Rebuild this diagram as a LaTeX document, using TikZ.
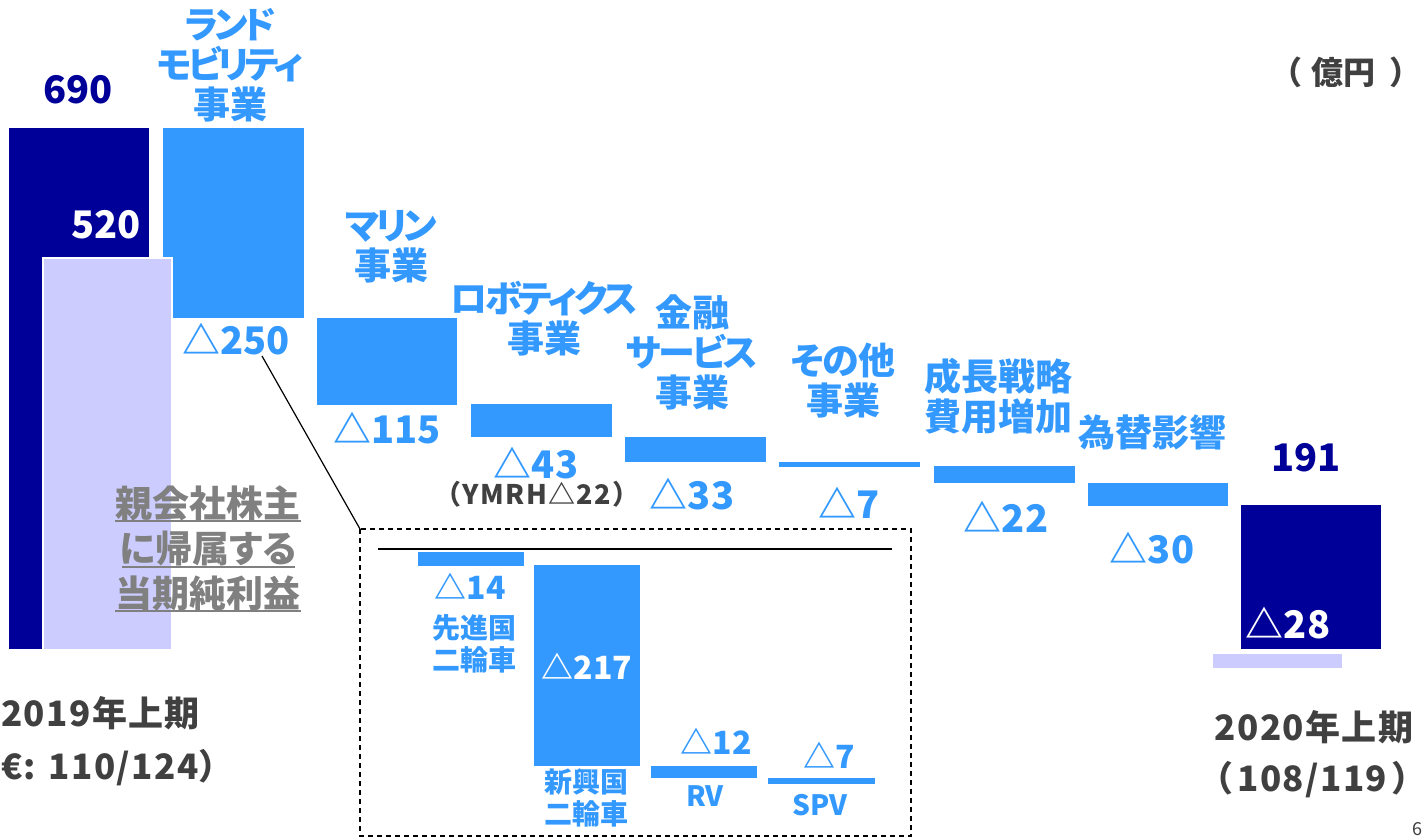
\documentclass[tikz,border=0pt]{standalone}
\usepackage{fontspec}
\setmainfont{Noto Sans CJK JP}[RawFeature={+palt}]
\newfontfamily\jpfw{Noto Sans CJK JP}
\newcommand{\kana}[2]{{\addfontfeature{LetterSpace=#1}#2}}
\definecolor{navy}{HTML}{000099}
\definecolor{bblue}{HTML}{3399FF}
\definecolor{lav}{HTML}{CCCCFF}
\definecolor{dgray}{HTML}{404040}
\definecolor{mgray}{HTML}{808080}
\tikzset{
  lbl/.style={font=\bfseries\fontsize{37}{40}\selectfont, text=bblue, align=center, inner sep=0pt},
  num/.style={font=\bfseries\fontsize{38}{40}\selectfont, text=bblue, inner sep=0pt},
  snum/.style={font=\bfseries\fontsize{32}{34}\selectfont, text=bblue, inner sep=0pt},
  slbl/.style={font=\bfseries\fontsize{28}{32}\selectfont, text=bblue, align=center, inner sep=0pt},
  yr/.style={font=\bfseries\fontsize{35}{40}\selectfont\addfontfeature{LetterSpace=4}, text=dgray, inner sep=0pt},
  glbl/.style={font=\bfseries\fontsize{37}{45}\selectfont, text=mgray, align=center, inner sep=0pt},
  barfill/.style={fill=bblue},
  boxline/.style={line width=1.3pt, dash pattern=on 5pt off 4pt}
}
\begin{document}
\begin{tikzpicture}[x=1pt,y=-1pt]
\useasboundingbox (0,0) rectangle (1424,837);
% main bars
\fill[navy] (9,128) rectangle (149,649);
\fill[barfill] (163,128) rectangle (304,318);
\filldraw[fill=lav, draw=white, line width=1.5pt] (43,258) rectangle (172,650);
\fill[barfill] (317,318) rectangle (457,405);
\fill[barfill] (471,404) rectangle (612,437);
\fill[barfill] (625,437) rectangle (766,462);
\fill[barfill] (779,462) rectangle (920,467);
\fill[barfill] (934,466) rectangle (1075,483);
\fill[barfill] (1088,483) rectangle (1228,506);
\fill[navy] (1241,505) rectangle (1381,649);
\fill[lav] (1213,654) rectangle (1342,668);
% inset box
\coordinate (boxtl) at (360,529);
\coordinate (boxbr) at (911,836);
\draw[boxline] (boxtl) rectangle (boxbr);
\coordinate (ruleA) at (378,549);
\coordinate (ruleB) at (892,549);
\draw[line width=2pt] (ruleA) -- (ruleB);
\fill[barfill] (418,552) rectangle (524,566);
\fill[barfill] (534,565) rectangle (640,766);
\fill[barfill] (651,766) rectangle (757,778);
\fill[barfill] (768,778) rectangle (875,784);
% main labels
\node[num, text=navy] (v690) at (78,90) {690};
\node[num, text=white, anchor=east] (v520) at (141,225) {520};
\node[lbl] (t1) at (230,65) {\kana{-12}{ランド}\\\kana{-11}{モビリティ}\\事業};
\node[num] (v250) at (236,339) {△250};
\node[lbl] (t2) at (391,247) {\kana{-11}{マリン}\\事業};
\node[num] (v115) at (387,428) {△115};
\node[lbl] (t3) at (544,319) {\kana{-8}{ロボティクス}\\事業};
\node[num] (v43) at (536,463) {△43};
\node[font=\jpfw\bfseries\fontsize{27}{28}\selectfont\addfontfeature{LetterSpace=5}, text=dgray, inner sep=0pt] (ymrh) at (537,494) {（YMRH△22）};
\node[lbl] (t4) at (692,352) {金融\\\kana{-7}{サービス}\\事業};
\node[num] (v33) at (692,494) {△33};
\node[lbl] (t5) at (843,381) {\kana{-3}{その他}\\事業};
\node[num] (v7) at (849,503) {△7};
\node[lbl] (t6) at (998,396) {成長戦略\\費用増加};
\node[num] (v22) at (1006,517) {△22};
\node[lbl] (t7) at (1152,432) {為替影響};
\node[num] (v30) at (1152,548) {△30};
\node[num, text=navy] (v191) at (1306,458) {191};
\node[num, text=white] (v28) at (1288,623) {△28};
\node[font=\bfseries\fontsize{32}{34}\selectfont, text=dgray, inner sep=0pt] (unit) at (1346,72) {（\hspace{10pt}億円\hspace{15pt}）};
% parent label
\node[glbl] (gl) at (208,548) {親会社株主\\に帰属する\\当期純利益};
\draw[mgray, line width=2pt] (115,521) -- (301,521) (122,567) -- (295,567) (115,611) -- (301,611);
% years
\node[yr, anchor=west] (y19) at (1,713) {2019年上期};
\node[yr, anchor=west] (r19) at (1,768) {€: 110/124）};
\node[yr] (y20) at (1314,727) {2020年上期};
\node[yr, anchor=east] (r20) at (1411,780) {（\hspace{6pt}108/119\hspace{6pt}）};
% inset labels
\node[snum] (v14) at (470,586) {△14};
\node[slbl] (s1) at (474,644) {先進国\\二輪車};
\node[snum, text=white] (v217) at (587,666) {△217};
\node[slbl] (s2) at (586,798) {新興国\\二輪車};
\node[snum] (v12) at (716,741) {△12};
\node[slbl] (s3) at (705,796) {RV};
\node[snum] (v7b) at (829,755) {△7};
\node[slbl] (s4) at (820,805) {SPV};
\node[font=\fontsize{18}{18}\selectfont, text=dgray, inner sep=0pt, anchor=south east] (pg) at (1423,836) {6};
% connector
\coordinate (lnA) at (262,356);
\draw[line width=1.2pt] (lnA) -- (boxtl);
\end{tikzpicture}
\end{document}
